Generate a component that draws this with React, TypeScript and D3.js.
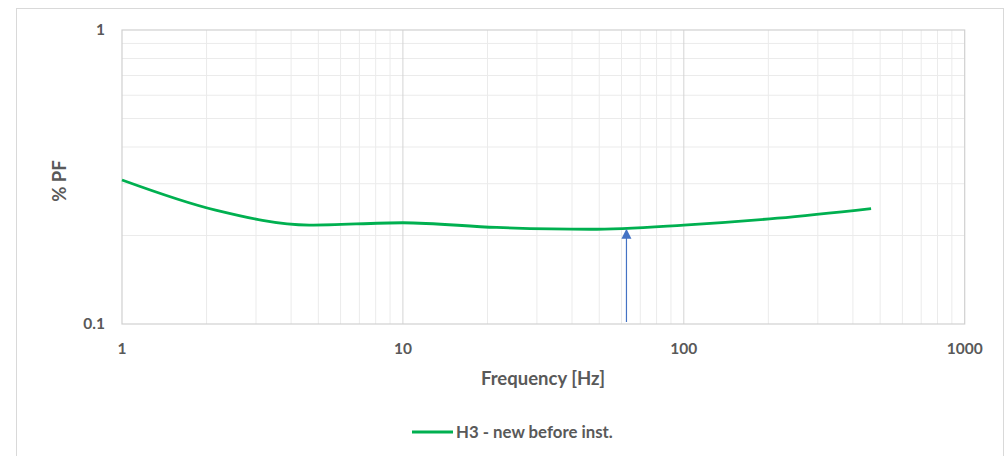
import React from "react";
import * as d3 from "d3";

const freqs = [1, 2.154, 4.642, 10, 21.54, 46.42, 100, 215.4, 464.2];
const pfValues = [0.309, 0.244, 0.217, 0.221, 0.213, 0.210, 0.217, 0.229, 0.247];
const xTicks = [1, 10, 100, 1000];
const yTicks = [0.1, 1];
const markerFreq = 62.5;
const seriesName = "H3 - new before inst.";

const W = 1006, H = 456;
const L = 122, R = 964.7, T = 30, B = 324;
const font = "Lato, 'Open Sans', sans-serif";
const txt = "#595959";

export default function App() {
  const x = d3.scaleLog().domain([1, 1000]).range([L, R]);
  const y = d3.scaleLog().domain([0.1, 1]).range([B, T]);
  const minorX: { v: number; major: boolean }[] = [];
  for (let d = 1; d < 1000; d *= 10)
    for (let k = 2; k <= 10; k++) minorX.push({ v: d * k, major: k === 10 && d * k < 1000 });
  const minorY: number[] = [];
  for (let k = 2; k <= 9; k++) minorY.push(k / 10);
  const line = d3.line<number>().x((_, i) => x(freqs[i])).y((v) => y(v)).curve(d3.curveMonotoneX);
  const ax = x(markerFreq);
  const lineAtMarker = (() => {
    const i = d3.bisectLeft(freqs, markerFreq);
    const t = (Math.log10(markerFreq) - Math.log10(freqs[i - 1])) / (Math.log10(freqs[i]) - Math.log10(freqs[i - 1]));
    return Math.pow(10, Math.log10(pfValues[i - 1]) * (1 - t) + Math.log10(pfValues[i]) * t);
  })();
  const tipY = y(lineAtMarker) + 1;
  return (
    <svg width={W} height={H} style={{ position: "absolute", left: 0, top: 0 }}>
      <rect x={0} y={0} width={W} height={H} fill="#fff" />
      <rect x={16.5} y={8.5} width={987} height={460} fill="#fff" stroke="#d9d9d9" />
      {minorY.map((v) => (
        <line key={"my" + v} x1={L} x2={R} y1={y(v)} y2={y(v)} stroke="#ebebeb" />
      ))}
      {minorX.filter((m) => m.v < 1000).map((m) => (
        <line key={"mx" + m.v} x1={x(m.v)} x2={x(m.v)} y1={T} y2={B} stroke={m.major ? "#d4d4d4" : "#ebebeb"} />
      ))}
      <rect x={L} y={T} width={R - L} height={B - T} fill="none" stroke="#d0d0d0" strokeWidth={1.2} />
      {yTicks.map((v) => (
        <text key={"yt" + v} x={L - 17} y={y(v)} dy="0.35em" textAnchor="end" fontFamily={font} fontSize={15.5} fontWeight="bold" fill={txt}>
          {v}
        </text>
      ))}
      {xTicks.map((v) => (
        <text key={"xt" + v} x={x(v)} y={B + 30} textAnchor="middle" fontFamily={font} fontSize={15.5} fontWeight="bold" fill={txt}>
          {v}
        </text>
      ))}
      <text x={543} y={385} textAnchor="middle" fontFamily={font} fontSize={18.5} fontWeight="bold" fill={txt}>
        Frequency [Hz]
      </text>
      <text transform="translate(66,181) rotate(-90)" textAnchor="middle" fontFamily={font} fontSize={18.5} fontWeight="bold" fill={txt}>
        % PF
      </text>
      <path d={line(pfValues) || ""} fill="none" stroke="#00b050" strokeWidth={2.8} strokeLinejoin="round" />
      <line x1={ax} x2={ax} y1={B - 2} y2={tipY + 8} stroke="#4472c4" strokeWidth={1.2} />
      <path d={`M${ax},${tipY} L${ax - 5},${tipY + 10} L${ax + 5},${tipY + 10} Z`} fill="#4472c4" />
      <line x1={412} x2={453} y1={432} y2={432} stroke="#00b050" strokeWidth={2.8} />
      <text x={456} y={432} dy="0.35em" fontFamily={font} fontSize={16.8} fontWeight="bold" fill={txt}>
        {seriesName}
      </text>
    </svg>
  );
}
